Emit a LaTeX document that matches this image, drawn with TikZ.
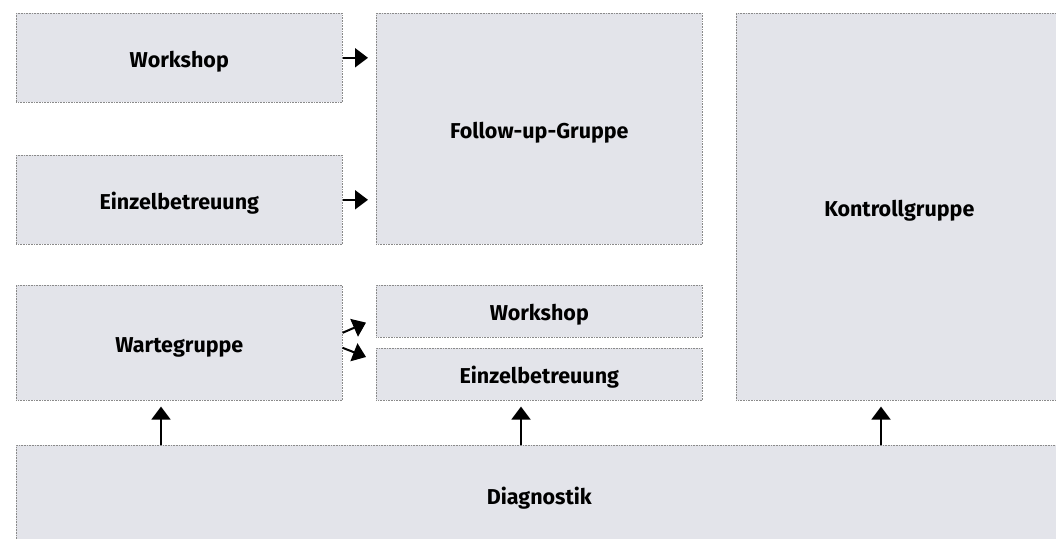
\documentclass[tikz,border=0pt]{standalone}
\usepackage{fontspec}
\setmainfont{Fira Sans}
\usepackage{tikz}
\usetikzlibrary{arrows.meta, calc}
\definecolor{kasten}{HTML}{E3E4EA}
\definecolor{rand}{HTML}{8A8A8A}
\tikzset{
    box/.style = {draw = rand, densely dotted, line width = 0.6pt, fill = kasten, anchor = north west, inner sep = 0pt, text height = 19pt, text depth = 0pt, font = \bfseries\fontsize{21.5}{24}\selectfont},
    pfeil/.style = {-{Triangle[width = 19pt, length = 13pt]}, line width = 2pt, solid, black}
}

\begin{document}
\begin{tikzpicture}[x = 1pt, y = -1pt]
    % parametri
    \pgfmathsetmacro{\bw}{326}
    \pgfmathsetmacro{\stub}{145}
    % Rahmen
    \useasboundingbox (0,0) rectangle (1056,538);
    % linke Spalte
    \node[box, minimum width = \bw pt, minimum height = 89pt] (wsA) at (16,13) {Workshop};
    \node[box, minimum width = \bw pt, minimum height = 89pt] (ebA) at (16,155) {Einzelbetreuung};
    \node[box, minimum width = \bw pt, minimum height = 115pt] (wg) at (16,285) {Wartegruppe};
    % mittlere Spalte
    \node[box, minimum width = \bw pt, minimum height = 231pt] (fu) at (376,13) {Follow-up-Gruppe};
    \node[box, minimum width = \bw pt, minimum height = 52pt] (wsB) at (376,285) {Workshop};
    \node[box, minimum width = \bw pt, minimum height = 52pt] (ebB) at (376,348) {Einzelbetreuung};
    % rechte Spalte
    \node[box, minimum width = \bw pt, minimum height = 387pt] (kg) at (736,13) {Kontrollgruppe};
    % unten
    \node[box, minimum width = 1046pt, minimum height = 100pt] (dg) at (16,445) {Diagnostik};
    % Pfeile nach rechts
    \draw[pfeil] (wsA.east) -- ([xshift = -8pt]fu.west |- wsA.east);
    \draw[pfeil] (ebA.east) -- ([xshift = -8pt]fu.west |- ebA.east);
    \draw[pfeil] ([yshift = 10pt]wg.east) -- ([xshift = -10pt, yshift = 15pt]wsB.south west);
    \draw[pfeil] ([yshift = -5pt]wg.east) -- ([xshift = -10pt, yshift = -9pt]ebB.north west);
    % Pfeile nach oben
    \draw[pfeil] ($(dg.north west)!(wg.south west)!(dg.north east) + (\stub,0)$) -- ([xshift = \stub pt, yshift = -6pt]wg.south west);
    \draw[pfeil] ($(dg.north west)!(ebB.south west)!(dg.north east) + (\stub,0)$) -- ([xshift = \stub pt, yshift = -6pt]ebB.south west);
    \draw[pfeil] ($(dg.north west)!(kg.south west)!(dg.north east) + (\stub,0)$) -- ([xshift = \stub pt, yshift = -6pt]kg.south west);
\end{tikzpicture}
\end{document}
